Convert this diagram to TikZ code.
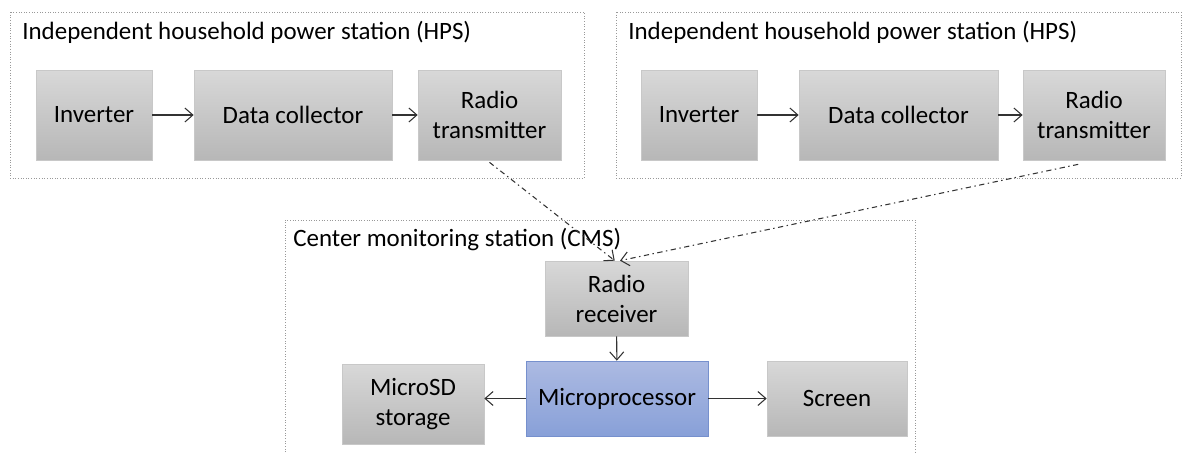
\documentclass[tikz,border=0pt]{standalone}
\usepackage{fontspec}
\setmainfont{Carlito}
\usetikzlibrary{arrows.meta}

\definecolor{unittop}{RGB}{216,216,216}
\definecolor{unitbot}{RGB}{183,183,183}
\definecolor{unitline}{RGB}{200,200,200}
\definecolor{cputop}{RGB}{172,186,226}
\definecolor{cpubot}{RGB}{136,160,216}
\definecolor{cpuline}{RGB}{118,144,205}

\tikzset{
    unit/.style={draw=unitline, top color=unittop, bottom color=unitbot,
        align=center, inner sep=0pt, font=\fontsize{14.2}{17}\selectfont},
    cpu/.style={unit, draw=cpuline, top color=cputop, bottom color=cpubot},
    station/.style={draw=gray!80, densely dotted, line width=0.5pt},
    title/.style={anchor=west, inner sep=0pt, font=\fontsize{14.2}{17}\selectfont},
    link/.style={-{Straight Barb[length=1.6mm,width=2.8mm]}, black!80, line width=0.6pt},
    radio/.style={link, dash pattern=on 3pt off 2pt on 0.8pt off 2pt}
}

\begin{document}
\begin{tikzpicture}[x=0.02cm, y=-0.02cm]
    \useasboundingbox (0,0) rectangle (1183,453);

    %% left household station
    \draw[station] (10,12) rectangle (584,178);
    \node[title] (hpsA) at (22,32) {Independent household power station (HPS)};
    \node[unit, minimum width=2.32cm, minimum height=1.8cm] (invA) at (94,115) {Inverter};
    \node[unit, minimum width=3.96cm, minimum height=1.8cm] (dcA) at (293,115) {Data collector};
    \node[unit, minimum width=2.86cm, minimum height=1.8cm] (txA) at (489.5,115) {Radio\\transmitter};
    \draw[link] (invA) -- (dcA);
    \draw[link] (dcA) -- (txA);

    %% right household station
    \draw[station] (616,12) rectangle (1181,178);
    \node[title] (hpsB) at (628,32) {Independent household power station (HPS)};
    \node[unit, minimum width=2.32cm, minimum height=1.8cm] (invB) at (699,115) {Inverter};
    \node[unit, minimum width=3.98cm, minimum height=1.8cm] (dcB) at (898.5,115) {Data collector};
    \node[unit, minimum width=2.84cm, minimum height=1.8cm] (txB) at (1094,115) {Radio\\transmitter};
    \draw[link] (invB) -- (dcB);
    \draw[link] (dcB) -- (txB);

    %% center monitoring station (bottom runs off the page)
    \draw[station] (285,460) -- (285,220) -- (915,220) -- (915,460);
    \node[title] (cms) at (293,240) {Center monitoring station (CMS)};
    \node[unit, minimum width=2.86cm, minimum height=1.5cm] (rx) at (616.5,298.5) {Radio\\receiver};
    \node[cpu, minimum width=3.64cm, minimum height=1.5cm] (cpu) at (617,398.5) {Microprocessor};
    \node[unit, minimum width=2.84cm, minimum height=1.6cm] (sd) at (413,404) {MicroSD\\storage};
    \node[unit, minimum width=2.8cm, minimum height=1.5cm] (scr) at (837,398.5) {Screen};
    \draw[link] (rx) -- (cpu);
    \draw[link] (cpu.west) -- (sd.east |- cpu.west);
    \draw[link] (cpu) -- (scr);

    %% radio links
    \draw[radio] (txA.south) ++(0,2) -- ([xshift=-1pt]rx.north);
    \draw[radio] ([xshift=-9pt]txB.south) ++(0,4) -- ([xshift=2pt]rx.north);

\end{tikzpicture}
\end{document}
